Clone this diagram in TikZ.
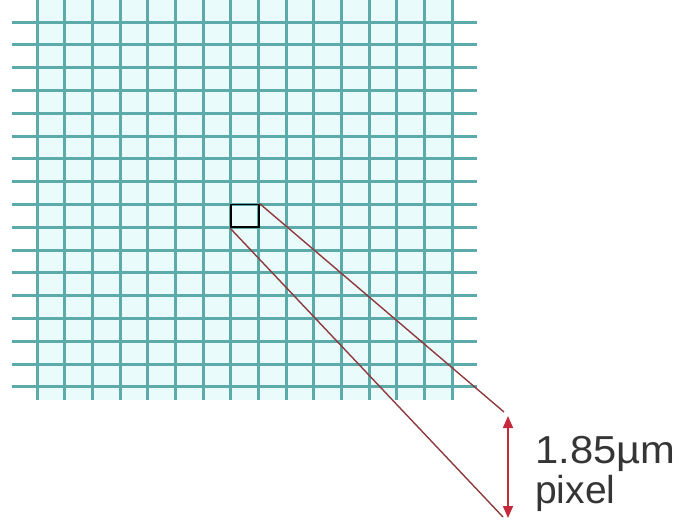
\documentclass[tikz,border=0pt]{standalone}
\usepackage{fontspec}
\setmainfont{Liberation Sans}
\usetikzlibrary{arrows.meta}

\begin{document}
\begin{tikzpicture}[x=1pt,y=-1pt]
    % Define colours
    \definecolor{gridColour}{HTML}{5CAAAA}
    \definecolor{cellColour}{HTML}{EAFBFB}
    \definecolor{rayColour}{HTML}{8E3B3E}
    \definecolor{arrowColour}{HTML}{C42A3C}
    \definecolor{textColour}{HTML}{353535}

    % Define grid spacing
    \def\colStep{27.67}
    \def\rowStep{22.81}

  \useasboundingbox (0,0) rectangle (684,522);

  % Draw the sensor grid
  \fill[cellColour] (37,0) rectangle (452,400);
  \foreach \i in {0,1,...,15}
    \draw[gridColour, line width=3pt] (37+\i*\colStep,0) -- (37+\i*\colStep,400);
  \foreach \j in {0,1,...,16}
    \draw[gridColour, line width=3pt] (12,22+\j*\rowStep) -- (477,22+\j*\rowStep);

  % Mark one pixel
  \node[draw=black, line width=1.8pt, minimum width=27.67pt, minimum height=22.81pt,
        inner sep=0pt] (pix) at (244.9,215.9) {};

  % Define the ends of the zoom rays
  \coordinate (rayTop) at (504,412);
  \coordinate (rayBot) at (503,517);
  \coordinate (arrTop) at (508,416);
  \coordinate (arrBot) at (508,518);

  % Draw the zoom rays
  \draw[rayColour, line width=1.4pt] (pix.north east) -- (rayTop);
  \draw[rayColour, line width=1.4pt] (pix.south west) -- (rayBot);

  % Draw the size arrow
  \draw[arrowColour, line width=1.6pt, {Triangle[length=12pt,width=10pt]}-{Triangle[length=12pt,width=10pt]}]
    (arrTop) -- (arrBot);

  % Label the pixel size
  \node[anchor=base west, inner sep=0pt, text=textColour, xscale=1.07, font=\fontsize{39}{43}\selectfont]
    (size) at (535,463) {1.85µm};
  \node[anchor=base west, inner sep=0pt, text=textColour, font=\fontsize{39}{43}\selectfont]
    (lbl) at (535,503) {pixel};

\end{tikzpicture}
\end{document}
